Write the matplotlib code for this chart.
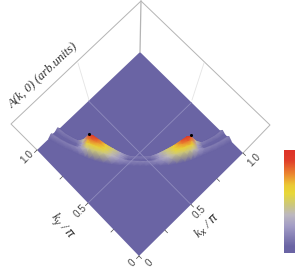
import numpy as np
import matplotlib
matplotlib.use("Agg")
import matplotlib.pyplot as plt
from matplotlib.colors import LinearSegmentedColormap

# values (half of the arc, mirrored at phi=0)
phi = [-45, -41, -37, -33, -30, -27, -25, -22, -18, -14, -10, -6, -3, 0]
r_in = [.800, .795, .785, .778, .772, .770, .768, .765, .761, .757, .754, .752, .751, .751]
r_out = [.863, .850, .838, .826, .820, .816, .814, .810, .804, .798, .792, .788, .786, .785]
# height on each row, row 0 = back of the arc, last row = front
z_rows = [
    [.00, .00, .00, .00, .00, .00, .00, .00, .00, .00, .00, .00, .00, .00],
    [.16, .14, .13, .16, .42, .90, .98, .86, .66, .48, .30, .15, .13, .13],
    [.03, .03, .04, .08, .30, .72, .82, .74, .60, .44, .27, .07, .04, .04],
    [.02, .02, .03, .07, .26, .60, .64, .62, .56, .40, .24, .06, .03, .03],
    [.17, .15, .15, .17, .24, .40, .46, .48, .45, .36, .24, .18, .17, .17],
    [.00, .00, .00, .00, .00, .00, .00, .00, .00, .00, .00, .00, .00, .00],
]
row_pos = [-.3, 0, .35, .65, 1, 1.35]  # place between inner and outer line
peak_phi = -27
peak_row = 1
peak_z = 1.0
ticks = [0, .25, .5, .75, 1]

colors = [(0, "#6a64a4"), (.06, "#6a64a4"), (.26, "#a39dc6"), (.37, "#bdb8c0"),
          (.47, "#cdc87a"), (.58, "#e8d838"), (.66, "#ebc935"), (.76, "#ec8c30"),
          (.9, "#e03e2a"), (1, "#de3228")]
cmap = LinearSegmentedColormap.from_list("arc", colors)
floor = cmap(0.0)
zscale = 15


def proj(kx, ky, z=0):
    """k-plane to picture pixels"""
    kx, ky = np.asarray(kx, float), np.asarray(ky, float)
    x = (1-kx)*(1-ky)*139 + kx*(1-ky)*243 + (1-kx)*ky*37 + kx*ky*140
    y = (1-kx)*(1-ky)*256 + kx*(1-ky)*153 + (1-kx)*ky*150 + kx*ky*52
    return x, y - z*zscale


fig = plt.figure(figsize=(3.03, 2.68), dpi=100)
ax = fig.add_axes([0, 0, 1, 1])
ax.axis("off")

# box
box = "#b4b4b4"
ax.plot([37, 11, 141, 270, 243], [150, 124, 1, 125, 153], color=box, lw=.7)
ax.plot([141, 140], [1, 52], color=box, lw=.9)
ax.plot([78, 89], [63, 100], color="#e4e4e4", lw=.6)
ax.plot([204, 192], [63, 100], color="#e4e4e4", lw=.6)

# floor
x, y = proj([0, 1, 1, 0], [0, 0, 1, 1])
ax.fill(x, y, color=floor, lw=0)
x, y = proj([.5, .5], [0, 1])
ax.plot(x, y, color="#8f8bbd", lw=.6)
x, y = proj([0, 1], [.5, .5])
ax.plot(x, y, color="#8f8bbd", lw=.6)

# arc surface, back rows first so that the front hides them
phis = np.array(phi + [-p for p in phi[-2::-1]], float)
ri = np.array(r_in + r_in[-2::-1])
ro = np.array(r_out + r_out[-2::-1])
Z = np.array([row + row[-2::-1] for row in z_rows])
R = np.array([ri + p*(ro-ri) for p in row_pos])
a = np.radians(45 + phis)
KX = 1 - R*np.cos(a)
KY = 1 - R*np.sin(a)
X, Y = proj(KX, KY, Z)
ax.pcolormesh(X, Y, Z, cmap=cmap, vmin=0, vmax=1, shading="gouraud", linewidth=0, rasterized=True)

# peaks
for s in (-1, 1):
    a0 = np.radians(45 + s*peak_phi)
    r0 = np.interp(peak_phi, phi, r_in)
    px, py = proj(1 - r0*np.cos(a0), 1 - r0*np.sin(a0), peak_z)
    ax.scatter(px, py, s=5, color="black", lw=0, zorder=5)

# ticks along the two front edges
for t in ticks:
    x, y = proj(t, 0)
    ax.plot([x, x+2.5], [y, y+2.5], color="#444444", lw=.5)
    x, y = proj(0, t)
    ax.plot([x, x-2.5], [y, y+2.5], color="#444444", lw=.5)

tk = dict(fontsize=7.2, color="#444444", rotation=45, ha="center", va="center", family="Liberation Sans")
ax.text(27, 157, "1.0", **tk)
ax.text(80, 211, "0.5", **tk)
ax.text(132, 262.5, "0", **tk)
ax.text(149, 262.5, "0", **tk)
ax.text(199, 212, "0.5", **tk)
ax.text(254, 160, "1.0", **tk)

lab = dict(fontsize=9, color="#333333", ha="center", va="center", family="Liberation Serif", style="italic")
ax.text(62, 226, r"k$_y$ / $\pi$", rotation=-50, **lab)
ax.text(207, 226, r"k$_x$ / $\pi$", rotation=45, **lab)
ax.text(43, 75, "A(k, 0) (arb.units)", rotation=43, **lab)

# colour bar
grad = np.linspace(1, 0, 200).reshape(-1, 1)
ax.imshow(grad, cmap=cmap, vmin=0, vmax=1, extent=(284, 295, 253, 150), aspect="auto")

ax.set_xlim(0, 303)
ax.set_ylim(268, 0)
fig.savefig("out.png", dpi=100)
